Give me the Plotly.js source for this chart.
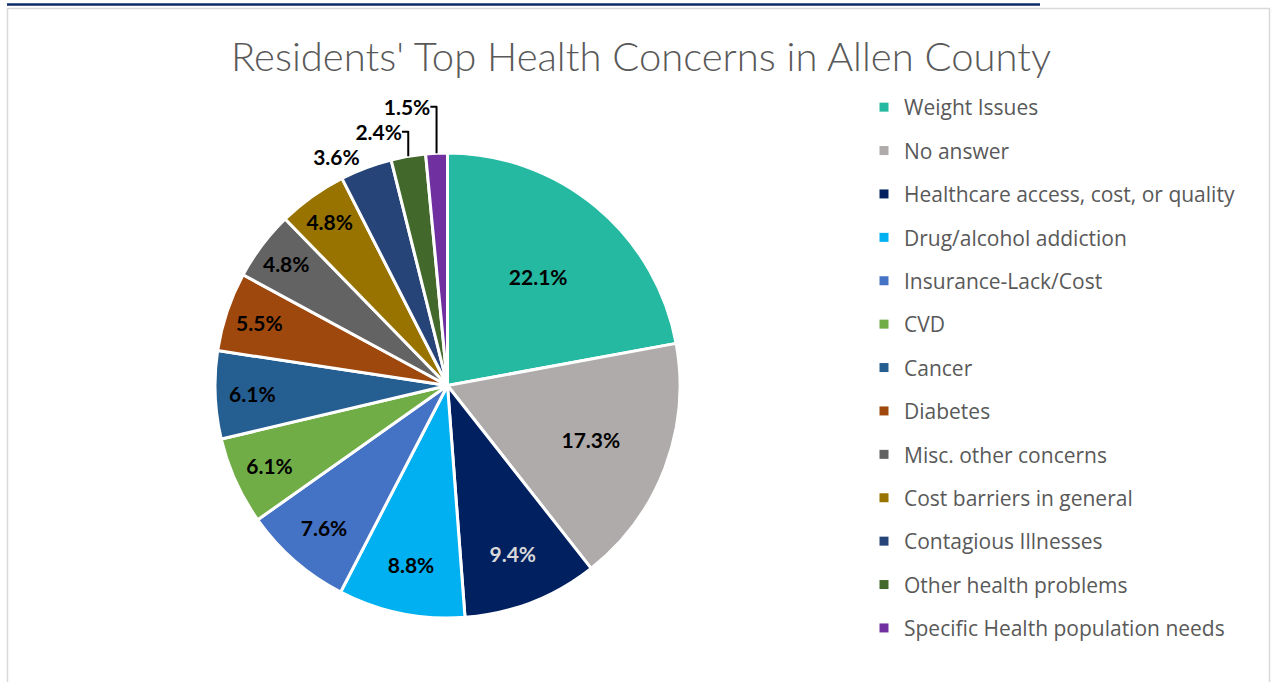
<!DOCTYPE html>
<html>
<head>
<meta charset="utf-8">
<script src="https://cdn.plot.ly/plotly-3.0.1.min.js"></script>
<style>
html,body{margin:0;padding:0;background:#fff;}
#chart{width:1276px;height:682px;}
</style>
</head>
<body>
<div id="chart"></div>
<script>
const categories = [
  "Weight Issues",
  "No answer",
  "Healthcare access, cost, or quality",
  "Drug/alcohol addiction",
  "Insurance-Lack/Cost",
  "CVD",
  "Cancer",
  "Diabetes",
  "Misc. other concerns",
  "Cost barriers in general",
  "Contagious Illnesses",
  "Other health problems",
  "Specific Health population needs"
];
const percentValues = [22.1, 17.3, 9.4, 8.8, 7.6, 6.1, 6.1, 5.5, 4.8, 4.8, 3.6, 2.4, 1.5];
const sliceColors = [
  "#25B9A2", "#AEABAA", "#002060", "#00B0F0", "#4472C4", "#70AD47", "#255E91",
  "#9E480E", "#636363", "#997300", "#264478", "#43682B", "#7030A0"
];
const labelPositions = ["inside","inside","inside","inside","inside","inside","inside",
  "inside","inside","inside","outside","outside","outside"];
const labelColors = ["#000","#000","#D9D9D9","#000","#000","#000","#000",
  "#000","#000","#000","#000","#000","#000"];

const FONT = "Lato, 'Open Sans', 'DejaVu Sans', sans-serif";
const LEGEND_FONT = "'Open Sans', Lato, 'DejaVu Sans', sans-serif";
const W = 1276, H = 682;

const pieTrace = {
  type: "pie",
  labels: categories,
  values: percentValues,
  sort: false,
  direction: "clockwise",
  rotation: 0,
  marker: { colors: sliceColors, line: { color: "#ffffff", width: 3 } },
  texttemplate: "%{value:.1f}%",
  textinfo: "text",
  textposition: labelPositions,
  insidetextorientation: "horizontal",
  insidetextfont: { family: FONT, size: 21, color: labelColors, weight: "bold" },
  outsidetextfont: { family: FONT, size: 21, color: "#000", weight: "bold" },
  showlegend: false,
  hoverinfo: "label+percent",
  domain: { x: [214 / W, 681 / W], y: [1 - 618 / H, 1 - 153 / H] }
};

const legendTraces = categories.map((name, i) => ({
  type: "scatter",
  mode: "markers",
  x: [null],
  y: [null],
  name: name,
  legendgroup: "g" + i,
  marker: { symbol: "square", size: 9, color: sliceColors[i] },
  showlegend: true,
  hoverinfo: "skip"
}));

const layout = {
  width: W,
  height: H,
  margin: { l: 0, r: 0, t: 0, b: 0 },
  paper_bgcolor: "#ffffff",
  plot_bgcolor: "rgba(0,0,0,0)",
  title: {
    text: "Residents' Top Health Concerns in Allen County",
    font: { family: FONT, size: 40, color: "#595959", weight: 300 },
    x: 641 / W,
    xanchor: "center",
    y: 1 - 57 / H,
    yanchor: "middle"
  },
  xaxis: { visible: false, domain: [0.99, 1], fixedrange: true },
  yaxis: { visible: false, domain: [0.99, 1], fixedrange: true },
  legend: {
    x: 864 / W,
    xanchor: "left",
    y: 1 - 87 / H,
    yanchor: "top",
    font: { family: LEGEND_FONT, size: 21, color: "#595959" },
    tracegroupgap: 13.1,
    bgcolor: "rgba(0,0,0,0)",
    borderwidth: 0
  },
  shapes: [
    { type: "rect", xref: "paper", yref: "paper",
      x0: 7.5 / W, x1: 1269.5 / W, y0: -0.05, y1: 1 - 8.5 / H,
      line: { color: "#D9D9D9", width: 1.5 }, fillcolor: "rgba(0,0,0,0)" },
    { type: "line", xref: "paper", yref: "paper",
      x0: 7 / W, x1: 1040 / W, y0: 1 - 4.5 / H, y1: 1 - 4.5 / H,
      line: { color: "#0B2A6B", width: 2.5 } }
  ]
};

Plotly.newPlot("chart", [pieTrace, ...legendTraces], layout, { displayModeBar: false, staticPlot: true });
</script>
</body>
</html>
